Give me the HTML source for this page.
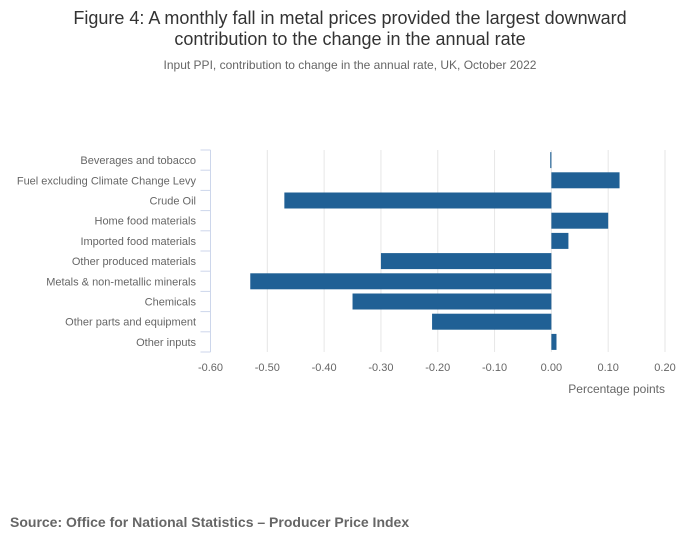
<!DOCTYPE html>
<html><head><meta charset="utf-8"><style>
body{margin:0;background:#fff;font-family:"Liberation Sans","DejaVu Sans",sans-serif;}
#wrap{position:relative;width:700px;height:549px;overflow:hidden}
</style></head><body>
<div id="wrap">
<svg id="chart" width="700" height="549">
<text x="350" y="24" text-anchor="middle" font-size="18" fill="#333">Figure 4: A monthly fall in metal prices provided the largest downward</text>
<text x="350" y="45" text-anchor="middle" font-size="18" fill="#333">contribution to the change in the annual rate</text>
<text x="350" y="69" text-anchor="middle" font-size="12" fill="#666">Input PPI, contribution to change in the annual rate, UK, October 2022</text>
<text x="665" y="393" text-anchor="end" font-size="12" fill="#666">Percentage points</text>
<text x="10" y="527" font-size="14" font-weight="bold" fill="#666">Source: Office for National Statistics – Producer Price Index</text>
<g id="grid"></g><g id="bars"></g><g id="yaxis"></g><g id="xaxis"></g>
</svg>
</div>
<script>
const categories=["Beverages and tobacco","Fuel excluding Climate Change Levy","Crude Oil","Home food materials","Imported food materials","Other produced materials","Metals & non-metallic minerals","Chemicals","Other parts and equipment","Other inputs"];
const values=[-0.002,0.12,-0.47,0.10,0.03,-0.30,-0.53,-0.35,-0.21,0.009];
const xTicks=[-0.6,-0.5,-0.4,-0.3,-0.2,-0.1,0,0.1,0.2];
const xTickLabels=["-0.60","-0.50","-0.40","-0.30","-0.20","-0.10","0.00","0.10","0.20"];
const NS="http://www.w3.org/2000/svg";
const x0=210.5,x1=665,vmin=-0.6,vmax=0.2,plotTop=150,plotBottom=352;
const xs=v=>x0+(v-vmin)/(vmax-vmin)*(x1-x0);
const band=(plotBottom-plotTop)/categories.length;
const ys=i=>plotTop+i*band;
function mk(tag,a,p){const e=document.createElementNS(NS,tag);for(const k in a)e.setAttribute(k,a[k]);p.appendChild(e);return e;}
const g=document.getElementById('grid'),b=document.getElementById('bars'),ya=document.getElementById('yaxis'),xa=document.getElementById('xaxis');
xTicks.forEach((t,i)=>{
 if(i>0){const l=mk('line',{x1:xs(t),x2:xs(t),y1:plotTop,y2:plotBottom,stroke:'#e6e6e6','stroke-width':1},g);
 
 }
 const tx=mk('text',{x:xs(t),y:371,'text-anchor':'middle','font-size':11,fill:'#666'},xa);
 tx.textContent=xTickLabels[i];
 
 
});
const ax=mk('line',{x1:x0,x2:x0,y1:plotTop,y2:plotBottom,stroke:'#ccd6eb','stroke-width':1},ya);


for(let i=0;i<=categories.length;i++){
 const t=mk('line',{x1:x0-10,x2:x0,y1:ys(i),y2:ys(i),stroke:'#ccd6eb','stroke-width':1},ya);
 
 
}
categories.forEach((c,i)=>{
 const cy=ys(i)+band/2;
 const tx=mk('text',{x:196,y:cy+4,'text-anchor':'end','font-size':11,fill:'#666'},ya);
 tx.textContent=c;
 
 
 const v=values[i];const a=xs(Math.min(0,v)),w=Math.max(1,Math.abs(xs(v)-xs(0)));
 const r=mk('rect',{x:a,y:cy-8,width:w,height:16,fill:'#206095'},b);
 
 
});
</script>
</body></html>
